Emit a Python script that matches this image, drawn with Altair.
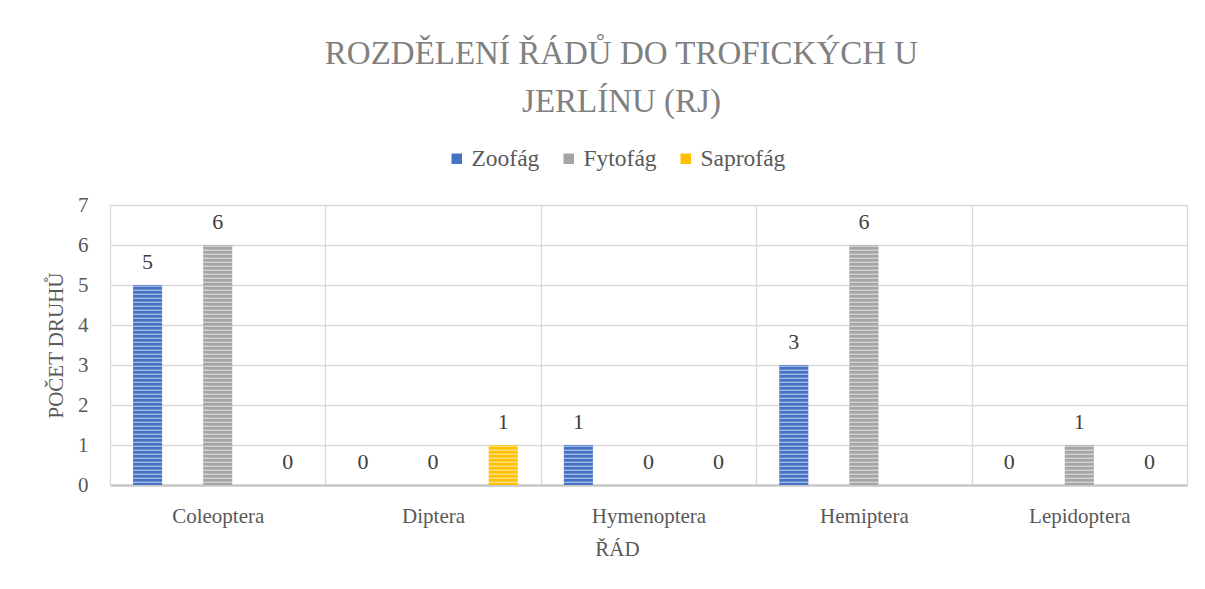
import altair as alt
import pandas as pd

orders = ["Coleoptera", "Diptera", "Hymenoptera", "Hemiptera", "Lepidoptera"]
types = ["Zoofág", "Fytofág", "Saprofág"]
zoofag = [5, 0, 1, 3, 0]
fytofag = [6, 0, 0, 6, 1]
saprofag = [0, 1, 0, None, 0]
colors = ["#4472C4", "#A5A5A5", "#FFC000"]
y_ticks = [0, 1, 2, 3, 4, 5, 6, 7]

rows = []
for i, o in enumerate(orders):
    for t, vals in zip(types, [zoofag, fytofag, saprofag]):
        rows.append({"order": o, "type": t, "value": vals[i]})
df = pd.DataFrame(rows)

FONT = "Liberation Serif"

x_axis = alt.Axis(
    labelAngle=0, labelFont=FONT, labelFontSize=21, labelColor="#595959",
    labelBaseline="alphabetic", labelPadding=37,
    ticks=False, tickSize=0, tickBand="extent",
    grid=True, gridColor="#d9d9d9", gridWidth=1.3,
    domainColor="#c8c8c8", domainWidth=2.5,
    titleFont=FONT, titleFontSize=21, titleFontWeight="normal", titleColor="#595959",
    titleX=507, titleY=70, titleBaseline="alphabetic", titleAlign="center", titleAnchor="start",
)
x_scale = alt.Scale(paddingInner=0, paddingOuter=0)
xoff_scale = alt.Scale(paddingInner=0.586, paddingOuter=0.329)
y_axis = alt.Axis(
    values=y_ticks, labelFont=FONT, labelFontSize=21, labelColor="#595959",
    labelPadding=22, labelOverlap=False, ticks=False, tickSize=0, domain=False,
    grid=True, gridColor="#d9d9d9", gridWidth=1.3,
    titleFont=FONT, titleFontSize=21, titleFontWeight="normal", titleColor="#595959",
    titleAngle=270, titleX=-48, titleY=140, titleBaseline="alphabetic", titleAlign="center",
    titleAnchor="start",
)
y_scale = alt.Scale(domain=[0, 7])


def xe():
    return alt.X("order:N", sort=orders, scale=x_scale, title="ŘÁD", axis=x_axis)


def xo():
    return alt.XOffset("type:N", sort=types, scale=xoff_scale)


def ye(field):
    return alt.Y(field, scale=y_scale, axis=y_axis, title="POČET DRUHŮ")


color_enc = alt.Color(
    "type:N", sort=types, scale=alt.Scale(domain=types, range=colors),
    legend=alt.Legend(
        title=None, orient="none", legendX=335, legendY=-58, direction="horizontal",
        columns=3, gridAlign="none", padding=0, symbolType="square", symbolSize=110,
        symbolStrokeWidth=0,
        labelFont=FONT, labelFontSize=23.5, labelColor="#595959",
        labelOffset=3, columnPadding=17,
    ),
)

base = alt.Chart(df)

bars = base.mark_bar().encode(x=xe(), xOffset=xo(), y=ye("value:Q"), color=color_enc)

stripes = (
    base.transform_filter("isValid(datum.value) && datum.value > 0")
    .transform_calculate(s="sequence(0, datum.value * 10)")
    .transform_flatten(["s"])
    .transform_calculate(s0="datum.s / 10 + 0.05", s1="datum.s / 10 + 0.085")
    .mark_bar(color="white", opacity=0.5)
    .encode(x=xe(), xOffset=xo(), y=ye("s0:Q"), y2="s1:Q")
)

labels = (
    base.transform_filter("isValid(datum.value)")
    .mark_text(dy=-16, baseline="alphabetic", font=FONT, fontSize=22, color="#404040")
    .encode(x=xe(), xOffset=xo(), y=ye("value:Q"), text="value:Q")
)

chart = (
    alt.layer(bars, stripes, labels)
    .properties(
        width=1077, height=280,
        title=alt.Title(
            ["ROZDĚLENÍ ŘÁDŮ DO TROFICKÝCH U", "JERLÍNU (RJ)"],
            font=FONT, fontSize=33, fontWeight="normal", color="#808080",
            lineHeight=48, anchor="middle", frame="group", offset=2, dx=-27,
            baseline="alphabetic",
        ),
        autosize=alt.AutoSizeParams(type="none"),
        padding={"left": 102, "top": 197, "right": 10, "bottom": 96},
    )
    .configure_view(stroke="#d9d9d9", strokeWidth=1.3)
    .configure(font=FONT)
)

chart.save("out.html", embed_options={"renderer": "svg", "actions": False})
